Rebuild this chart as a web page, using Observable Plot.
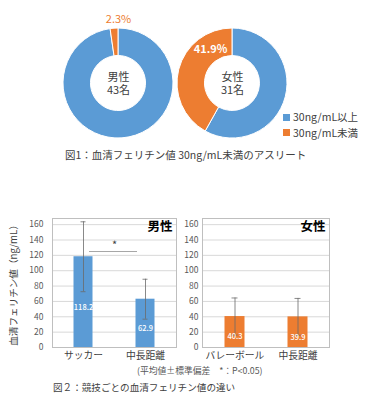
<!DOCTYPE html>
<html><head><meta charset="utf-8">
<script src="https://cdn.jsdelivr.net/npm/d3@7"></script>
<script src="https://cdn.jsdelivr.net/npm/@observablehq/plot@0.6"></script>
<style>
body{margin:0;background:#fff;}
#root{position:relative;width:384px;height:400px;overflow:hidden;font-family:"Noto Sans CJK JP","Noto Sans",sans-serif;color:#404040;}
.abs{position:absolute;white-space:nowrap;}
.sw{display:inline-block;width:7px;height:7px;margin-right:3px;vertical-align:middle;position:relative;top:-1px;}
</style></head><body><div id="root"></div>
<script>
// ---- data: figure 1 (donuts)
const donutGroups = ["男性", "女性"];
const donutCounts = ["43名", "31名"];
const ironCategories = ["30ng/mL以上", "30ng/mL未満"];
const aboveShare = [97.7, 58.1];
const belowShare = [2.3, 41.9];
const caption1 = "図1：血清フェリチン値 30ng/mL未満のアスリート";

// ---- data: figure 2 (bars)
const maleSports = ["サッカー", "中長距離"];
const maleMeans = [118.2, 62.9];
const maleSD = [45.5, 26.0];
const femaleSports = ["バレーボール", "中長距離"];
const femaleMeans = [40.3, 39.9];
const femaleSD = [24.2, 24.0];
const yTicks = [0, 20, 40, 60, 80, 100, 120, 140, 160];
const sigLevel = 125;
const sigMark = "*";
const yLabel = "血清フェリチン値（ng/mL）";
const note2 = "(平均値±標準偏差　*：P<0.05)";
const caption2 = "図２：競技ごとの血清フェリチン値の違い";

const palette = ["#5b9bd5", "#ed7d31"];
const FONT = '"Noto Sans CJK JP","Noto Sans",sans-serif';
const root = document.getElementById("root");

function place(node, left, top) {
  node.classList.add("abs");
  node.style.left = left + "px";
  node.style.top = top + "px";
  root.appendChild(node);
  return node;
}
function textDiv(str, left, top, size, color) {
  const d = document.createElement("div");
  d.textContent = str;
  d.style.fontSize = size + "px";
  d.style.lineHeight = "1.2";
  d.style.color = color;
  return place(d, left, top);
}

// ---------- Figure 1 ----------
const donutData = donutGroups.map((g, i) => ({group: g, count: donutCounts[i], shares: [aboveShare[i], belowShare[i]]}));

function donutRings(index, scales) {
  const g = d3.create("svg:g");
  const cy = scales.y(0), R = cy - scales.y(1);
  const arc = d3.arc().innerRadius(R * 0.5).outerRadius(R);
  const pie = d3.pie().sort(null);
  for (const d of donutData) {
    const cx = scales.x(d.group);
    g.append("g").attr("transform", `translate(${cx},${cy})`)
      .selectAll("path").data(pie(d.shares)).join("path")
      .attr("d", arc).attr("fill", (p, i) => palette[i])
      .attr("stroke", "#fff").attr("stroke-width", 1);
  }
  return g.node();
}

const donutPlot = Plot.plot({
  width: 384, height: 145,
  marginLeft: 61, marginRight: 95, marginTop: 28, marginBottom: 7,
  x: {type: "point", domain: donutGroups, padding: 0.5, axis: null},
  y: {domain: [-1, 1], axis: null},
  style: {fontFamily: FONT, background: "transparent"},
  marks: [
    donutRings,
    Plot.text(donutData, {x: "group", y: () => 0, text: d => d.group, dy: -6.5, fontSize: 11, fill: "#404040"}),
    Plot.text(donutData, {x: "group", y: () => 0, text: d => d.count, dy: 7, fontSize: 11, fill: "#404040"}),
    Plot.text(donutData.slice(0, 1), {x: "group", y: () => 1, text: d => `${d.shares[1]}%`, dy: -9, fill: palette[1], fontSize: 11}),
    Plot.text(donutData.slice(1), {x: "group", y: () => 0, text: d => `${d.shares[1]}%`, dx: -22, dy: -34, fill: "#fff", fontWeight: "bold", fontSize: 11})
  ]
});
place(donutPlot, 0, 0);

// legend
ironCategories.forEach((c, i) => {
  const d = document.createElement("div");
  d.style.fontSize = "10.5px";
  d.style.lineHeight = "1.2";
  d.style.color = "#404040";
  const sw = document.createElement("span");
  sw.className = "sw";
  sw.style.background = palette[i];
  d.appendChild(sw);
  d.appendChild(document.createTextNode(c));
  place(d, 283, 111 + i * 15.5);
});
textDiv(caption1, 65, 149, 10.5, "#404040");

// ---------- Figure 2 ----------
function panel({sports, means, sds, color, title, label, left, width, marginLeft, plotWidth, tickPadding, star}) {
  const rows = sports.map((s, i) => ({sport: s, mean: means[i], sd: sds[i]}));
  const marks = [
    Plot.gridY(yTicks.slice(1), {stroke: "#d9d9d9", strokeOpacity: 1}),
    Plot.frame({stroke: "#bfbfbf"}),
    Plot.axisY(yTicks, {tickSize: 0, tickPadding, fontSize: 8.5, fill: "#595959", label: null}),
    Plot.axisX({tickSize: 0, tickPadding: 5, fontSize: 9.8, fill: "#404040", label: null}),
    Plot.barY(rows, {x: "sport", y: "mean", fill: color, insetLeft: 21.5, insetRight: 21.5}),
    Plot.ruleX(rows, {x: "sport", y1: d => d.mean - d.sd, y2: d => d.mean + d.sd, stroke: "#6b6b6b", strokeWidth: 0.8}),
    Plot.tickY(rows, {x: "sport", y: d => d.mean + d.sd, stroke: "#6b6b6b", strokeWidth: 0.8, insetLeft: 28.5, insetRight: 28.5}),
    Plot.tickY(rows, {x: "sport", y: d => d.mean - d.sd, stroke: "#6b6b6b", strokeWidth: 0.8, insetLeft: 28.5, insetRight: 28.5}),
    Plot.text(rows, {x: "sport", y: d => d.mean / 2, text: d => d.mean.toFixed(1), fill: "#fff", fontSize: 7.5, fontWeight: 500, dy: 5}),
    Plot.text([title], {text: d => d, frameAnchor: "top-right", dx: -4, dy: 4, fontSize: 12.5, fontWeight: "bold", fill: "#000"})
  ];
  if (label) {
    marks.push(Plot.text([label], {text: d => d, frameAnchor: "left", textAnchor: "middle", rotate: -90, dx: -39, fontSize: 9.6, fill: "#404040"}));
  }
  if (star) {
    marks.push(Plot.ruleY([sigLevel], {y: d => d, insetLeft: 37, insetRight: 39, stroke: "#a6a6a6", strokeWidth: 1}));
    marks.push(Plot.text([sigLevel], {y: d => d, text: () => sigMark, dy: -6, fontSize: 11, fill: "#404040"}));
  }
  const p = Plot.plot({
    width, height: 180,
    marginLeft, marginRight: width - marginLeft - plotWidth,
    marginTop: 28, marginBottom: 23,
    x: {type: "band", domain: sports, padding: 0},
    y: {domain: [0, 168]},
    style: {fontFamily: FONT, background: "transparent", color: "#404040"},
    marks
  });
  place(p, left, 190);
}

panel({sports: maleSports, means: maleMeans, sds: maleSD, color: palette[0], title: "男性",
  label: yLabel, left: 0, width: 180, marginLeft: 52, plotWidth: 124, tickPadding: 9, star: true});
panel({sports: femaleSports, means: femaleMeans, sds: femaleSD, color: palette[1], title: "女性",
  label: null, left: 180, width: 204, marginLeft: 22, plotWidth: 127, tickPadding: 4, star: false});

textDiv(note2, 137, 366, 8.8, "#595959");
textDiv(caption2, 53, 382, 9.6, "#404040");
</script></body></html>
